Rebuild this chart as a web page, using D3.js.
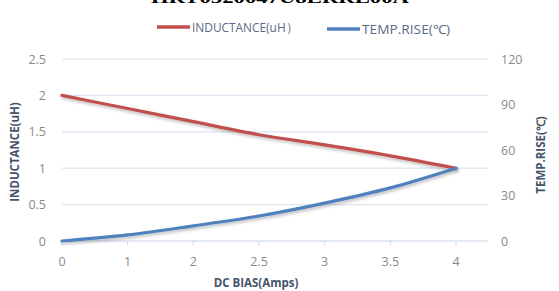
<!DOCTYPE html>
<html><head><meta charset="utf-8">
<script src="https://cdn.jsdelivr.net/npm/d3@7"></script>
<style>body{margin:0;background:#fff}svg{display:block}</style>
</head><body>
<svg id="c" width="559" height="291"></svg>
<script>
const categories = ["0","1","2","2.5","3","3.5","4"];
const inductance = [2.0, 1.82, 1.64, 1.46, 1.32, 1.17, 1.0];
const tempRise = [0, 4, 10, 16.5, 25, 35, 48];
const leftTicks = [0, 0.5, 1, 1.5, 2, 2.5];
const rightTicks = [0, 30, 60, 90, 120];
const titleText = "HRT0520047U8ERRL00A";

const svg = d3.select("#c");
const x = d3.scalePoint().domain(categories).range([62, 456]);
const yL = d3.scaleLinear().domain([0, 2.5]).range([241, 59]);
const yR = d3.scaleLinear().domain([0, 120]).range([241, 59]);
const gridRight = 488;
const gray = "#8a8a8a";
const font = "'Open Sans', 'Liberation Sans', sans-serif";
const titleColor = "#44546a";

const defs = svg.append("defs");
const f = defs.append("filter").attr("id","sh").attr("x","-10%").attr("y","-20%").attr("width","120%").attr("height","140%");
f.append("feDropShadow").attr("dx",1).attr("dy",2).attr("stdDeviation",1.5).attr("flood-color","#000").attr("flood-opacity",0.25);

// title (partly cut, as in the reference)
svg.append("text").attr("x",280).attr("y",3).attr("text-anchor","middle")
  .attr("font-family","'Liberation Serif', serif").attr("font-weight","bold").attr("font-size",15)
  .attr("textLength",258).attr("lengthAdjust","spacingAndGlyphs")
  .attr("fill","#000").text(titleText);

// gridlines
svg.append("g").selectAll("line").data(leftTicks).join("line")
  .attr("x1",62).attr("x2",gridRight)
  .attr("y1",d=>yL(d)).attr("y2",d=>yL(d))
  .attr("stroke", d=> d===0 ? "#c9d6ea" : "#dde5f1").attr("stroke-width",1.2);

// x tick marks
svg.append("g").selectAll("line").data(categories).join("line")
  .attr("x1",d=>x(d)).attr("x2",d=>x(d)).attr("y1",241).attr("y2",245)
  .attr("stroke","#c9d6ea").attr("stroke-width",1);

// left tick labels
svg.append("g").selectAll("text").data(leftTicks).join("text")
  .attr("x",46).attr("y",d=>yL(d)+4.5).attr("text-anchor","end")
  .attr("font-family",font).attr("font-size",12.5).attr("fill",gray).text(d=>d);
// right tick labels
svg.append("g").selectAll("text").data(rightTicks).join("text")
  .attr("x",501).attr("y",d=>yR(d)+4.5).attr("text-anchor","start")
  .attr("font-family",font).attr("font-size",12.5).attr("fill",gray).text(d=>d);
// x tick labels
svg.append("g").selectAll("text").data(categories).join("text")
  .attr("x",d=>x(d)).attr("y",266).attr("text-anchor","middle")
  .attr("font-family",font).attr("font-size",12.5).attr("fill",gray).text(d=>d);

// axis titles
svg.append("text").attr("transform","translate(19,152) rotate(-90)").attr("text-anchor","middle")
  .attr("font-family",font).attr("font-weight","bold").attr("font-size",11.5).attr("fill",titleColor).text("INDUCTANCE(uH)");
svg.append("text").attr("transform","translate(545,155) rotate(-90)").attr("text-anchor","middle")
  .attr("font-family",font).attr("font-weight","bold").attr("font-size",11.5).attr("fill",titleColor).text("TEMP.RISE(℃)");
svg.append("text").attr("x",256).attr("y",287).attr("text-anchor","middle")
  .attr("font-family",font).attr("font-weight","bold").attr("font-size",11.5).attr("fill",titleColor).text("DC BIAS(Amps)");

// lines
const lineL = d3.line().x((d,i)=>x(categories[i])).y(d=>yL(d)).curve(d3.curveMonotoneX);
const lineR = d3.line().x((d,i)=>x(categories[i])).y(d=>yR(d)).curve(d3.curveMonotoneX);
svg.append("path").attr("d",lineL(inductance)).attr("fill","none").attr("stroke","#c0504d")
  .attr("stroke-width",3.2).attr("stroke-linecap","round").attr("filter","url(#sh)");
svg.append("path").attr("d",lineR(tempRise)).attr("fill","none").attr("stroke","#4f81bd")
  .attr("stroke-width",3.2).attr("stroke-linecap","round").attr("filter","url(#sh)");

// legend
const leg = [{t:"INDUCTANCE(uH）",c:"#c0504d",x:157,y:27,w:106},{t:"TEMP.RISE(℃)",c:"#4f81bd",x:327,y:29,w:88}];
const lg = svg.append("g").selectAll("g").data(leg).join("g");
lg.append("line").attr("x1",d=>d.x).attr("x2",d=>d.x+33).attr("y1",d=>d.y).attr("y2",d=>d.y)
  .attr("stroke",d=>d.c).attr("stroke-width",3.5);
lg.append("text").attr("x",d=>d.x+35).attr("y",d=>d.y+4.5)
  .attr("font-family",font).attr("font-size",12.5).attr("fill","#5a6a86")
  .attr("textLength",d=>d.w).attr("lengthAdjust","spacingAndGlyphs").text(d=>d.t);
</script>
</body></html>
